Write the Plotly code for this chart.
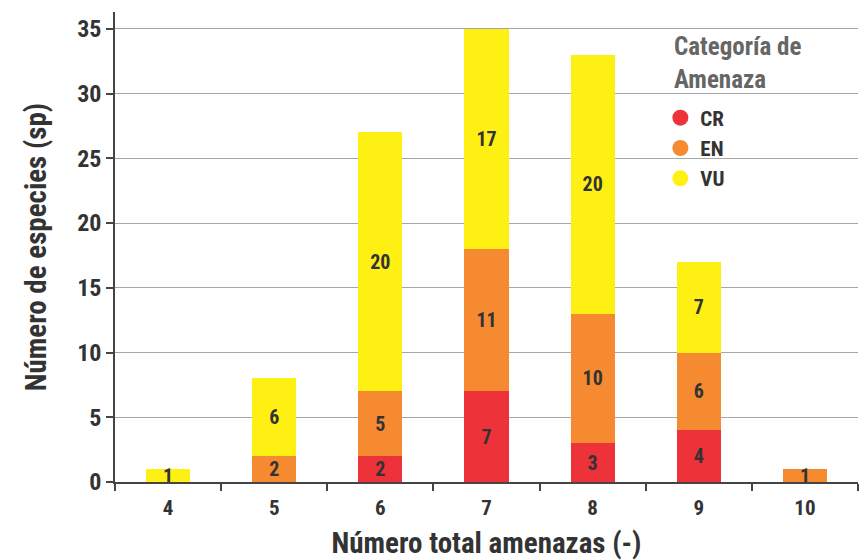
import plotly.graph_objects as go

# Threat counts per species, stacked by IUCN category
amenazas = ["4", "5", "6", "7", "8", "9", "10"]
cr = [0, 0, 2, 7, 3, 4, 0]
en = [0, 2, 5, 11, 10, 6, 1]
vu = [1, 6, 20, 17, 20, 7, 0]

categorias = ["CR", "EN", "VU"]
colores = ["#EE3239", "#F58A31", "#FFF014"]
series = [cr, en, vu]
titulo_leyenda = "Categoría de<br>Amenaza"

FONT = "Roboto Condensed, DejaVu Sans Condensed, Arial Narrow, sans-serif"
TXT = "#333333"

fig = go.Figure()
for nombre, vals, col in zip(categorias, series, colores):
    fig.add_trace(go.Bar(
        x=amenazas, y=vals, name=nombre, legendgroup=nombre,
        marker=dict(color=col, line=dict(width=0)),
        text=[str(v) if v else "" for v in vals],
        textposition="inside", insidetextanchor="middle",
        textangle=0, constraintext="none",
        textfont=dict(family=FONT, size=20, color=TXT, weight="bold"),
        showlegend=False, hoverinfo="skip",
    ))
    # circular legend swatch
    fig.add_trace(go.Scatter(
        x=[None], y=[None], mode="markers", name=nombre, legendgroup=nombre,
        marker=dict(symbol="circle", size=20, color=col),
    ))

fig.update_layout(
    barmode="stack",
    bargap=0.585,
    width=864, height=560,
    margin=dict(l=115, r=6, t=12, b=76),
    plot_bgcolor="white", paper_bgcolor="white",
    font=dict(family=FONT, color=TXT, size=20, weight="bold"),
    legend=dict(
        x=0.734, y=0.818, xanchor="left", yanchor="top",
        traceorder="normal",
        font=dict(family=FONT, size=21, color=TXT, weight="bold"),
        itemsizing="trace", tracegroupgap=6,
        bgcolor="rgba(0,0,0,0)",
    ),
    annotations=[dict(
        text=titulo_leyenda, xref="paper", yref="paper",
        x=0.7497, y=0.962, xanchor="left", yanchor="top", align="left",
        showarrow=False,
        font=dict(family=FONT, size=25, color="#666666", weight="bold"),
    )],
)

fig.update_xaxes(
    type="category",
    showline=True, linecolor="#444444", linewidth=1.5,
    ticks="outside", tickson="boundaries", ticklen=7, tickcolor="#444444", tickwidth=1.5,
    ticklabelstandoff=6,
    tickfont=dict(family=FONT, size=21, color=TXT, weight="bold"),
    showgrid=False,
    title=dict(text="Número total amenazas (-)",
               font=dict(family=FONT, size=29, color=TXT, weight="bold"),
               standoff=14),
)
fig.update_yaxes(
    range=[0, 36.3], tickvals=[0, 5, 10, 15, 20, 25, 30, 35],
    showline=True, linecolor="#444444", linewidth=1.5,
    ticks="outside", ticklen=7, tickcolor="#444444", tickwidth=1.5,
    showgrid=True, gridcolor="#A6A6A6", gridwidth=1.2,
    zeroline=False,
    tickfont=dict(family=FONT, size=24, color=TXT, weight="bold"),
    title=dict(text="Número de especies (sp)",
               font=dict(family=FONT, size=29, color=TXT, weight="bold"),
               standoff=22),
)

fig.write_html("out.html")
